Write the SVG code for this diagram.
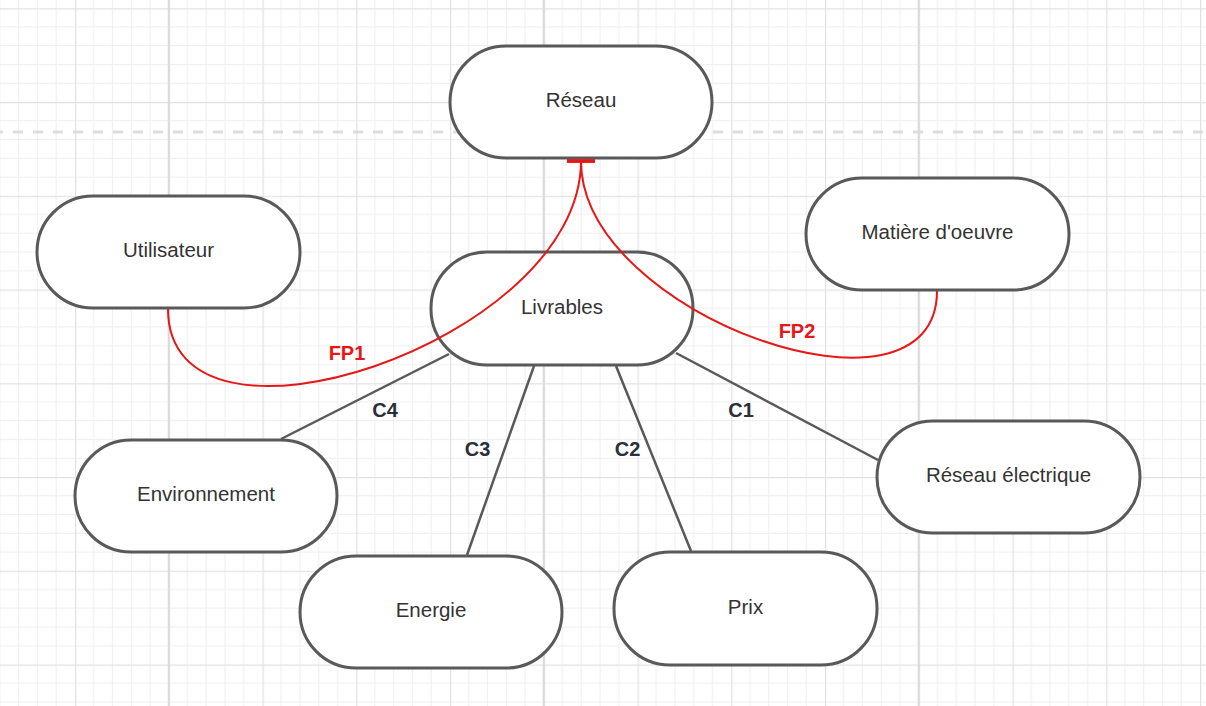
<svg xmlns="http://www.w3.org/2000/svg" width="1206" height="706" viewBox="0 0 1206 706">
<style>
.node rect{fill:#ffffff;stroke:#595959;stroke-width:3}
.node text{font-family:"Liberation Sans",Arial,sans-serif;font-size:20.5px;fill:#333333;text-anchor:middle}
.conn{stroke:#595959;stroke-width:2.5;fill:none}
.fp{stroke:#e81717;stroke-width:2;fill:none;marker-end:url(#tbar)}
.clabel{font-family:"Liberation Sans",Arial,sans-serif;font-size:20px;font-weight:bold;fill:#2b2f38;text-anchor:middle}
.fplabel{font-family:"Liberation Sans",Arial,sans-serif;font-size:20px;font-weight:bold;fill:#e81717;text-anchor:middle}
</style>
<defs>
<pattern id="grid" patternUnits="userSpaceOnUse" x="75" y="8.25" width="93.75" height="93.75">
<path d="M18.75,0V93.75M37.5,0V93.75M56.25,0V93.75M75,0V93.75M0,18.75H93.75M0,37.5H93.75M0,56.25H93.75M0,75H93.75" stroke="#eeeeee" stroke-width="1" fill="none"/>
<path d="M0.5,0V93.75M0,0.5H93.75" stroke="#e2e2e2" stroke-width="1.5" fill="none"/>
</pattern>
<marker id="tbar" viewBox="-3 -15 6 30" refX="0" refY="0" markerWidth="6" markerHeight="30" markerUnits="userSpaceOnUse" orient="auto">
<path d="M0,-14V14" stroke="#e81717" stroke-width="3.5"/>
</marker>
</defs>
<g id="background">
<rect x="0" y="0" width="1206" height="706" fill="#ffffff"/>
<rect x="0" y="0" width="1206" height="706" fill="url(#grid)"/>
<path d="M168.75,0V706M543.75,0V706M918.75,0V706" stroke="#dadada" stroke-width="2"/>
<path d="M0,132H1206" stroke="#dddddd" stroke-width="3" stroke-dasharray="10 10" stroke-dashoffset="7"/>
</g>
<g id="node-reseau" class="node"><rect x="450" y="46" width="262" height="112" rx="56"/><text x="581" y="106.5">Réseau</text></g>
<g id="node-utilisateur" class="node"><rect x="37" y="196" width="263" height="112" rx="56"/><text x="168.5" y="256.5">Utilisateur</text></g>
<g id="node-matiere" class="node"><rect x="806" y="178" width="263" height="112" rx="56"/><text x="937.5" y="238.5">Matière d'oeuvre</text></g>
<g id="node-livrables" class="node"><rect x="431" y="252" width="262" height="113" rx="56"/><text x="562" y="313.5">Livrables</text></g>
<g id="node-environnement" class="node"><rect x="75" y="440" width="262" height="112" rx="56"/><text x="206" y="500.5">Environnement</text></g>
<g id="node-energie" class="node"><rect x="300" y="556" width="262" height="112" rx="56"/><text x="431" y="616.5">Energie</text></g>
<g id="node-prix" class="node"><rect x="614" y="552" width="263" height="113" rx="56"/><text x="745.5" y="613.5">Prix</text></g>
<g id="node-reseau-electrique" class="node"><rect x="877" y="421" width="263" height="112" rx="56"/><text x="1008.5" y="481.5">Réseau électrique</text></g>
<g id="connectors">
<line class="conn" x1="449" y1="354" x2="281" y2="439"/>
<line class="conn" x1="534" y1="366" x2="467" y2="555"/>
<line class="conn" x1="616" y1="366" x2="691" y2="551"/>
<line class="conn" x1="676" y1="353" x2="878" y2="460"/>
<path class="fp" d="M168,309 C168,478 581,342 581,161"/>
<path class="fp" d="M937,291 C937,439 581,316 581,161"/>
<text class="clabel" x="385" y="417">C4</text>
<text class="clabel" x="477.5" y="456">C3</text>
<text class="clabel" x="627.5" y="456">C2</text>
<text class="clabel" x="741" y="417">C1</text>
<text class="fplabel" x="347" y="360">FP1</text>
<text class="fplabel" x="797" y="338">FP2</text>
</g>
</svg>
